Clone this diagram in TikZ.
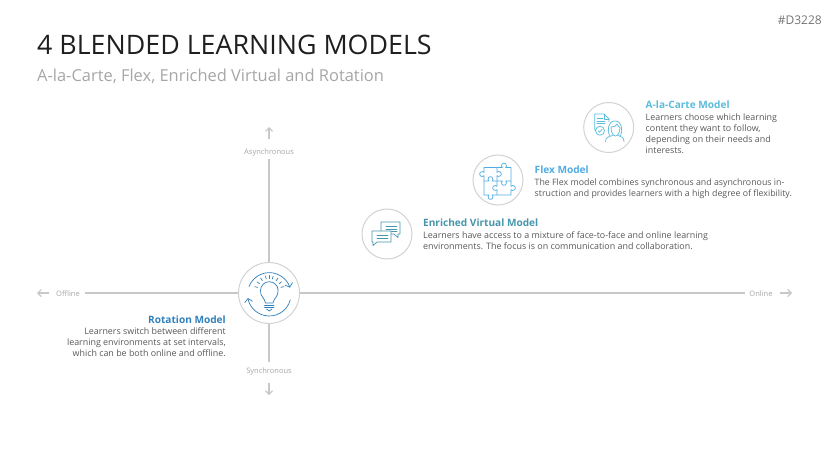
\documentclass[tikz,border=0pt]{standalone}
\usepackage{fontspec}
\setmainfont{Open Sans}
\usetikzlibrary{arrows.meta}
\definecolor{bodytxt}{HTML}{595959}
\definecolor{graytxt}{HTML}{A6A6A6}
\definecolor{axisgray}{HTML}{C8C8C8}
\definecolor{ringgray}{HTML}{D2D2D2}
\definecolor{cAla}{HTML}{5ABBDB}
\definecolor{cFlex}{HTML}{50ABE3}
\definecolor{cEnr}{HTML}{4596AB}
\definecolor{cRot}{HTML}{2F80BC}
\tikzset{
  ring/.style={circle,draw=ringgray,line width=1pt,fill=white,minimum size=50pt,inner sep=0pt},
  axis/.style={draw=axisgray,line width=1.2pt},
  axlabel/.style={text=graytxt,font=\fontsize{7.5}{9}\selectfont,inner sep=0pt},
  dirarrow/.style={draw=axisgray,line width=1.2pt,-{Straight Barb[length=3.5pt,width=7pt]}},
  heading/.style={font=\fontsize{10.1}{11}\selectfont\bfseries,inner sep=0pt},
  bodyleft/.style={text=bodytxt,font=\fontsize{8.9}{11}\selectfont,inner sep=0pt,align=left,anchor=north west},
  bodyright/.style={text=bodytxt,font=\fontsize{8.9}{11}\selectfont,inner sep=0pt,align=right,anchor=north east},
  icon/.style={line width=.7pt,line join=round,line cap=round},
  hubarrow/.style={-{Straight Barb[length=3.5pt,width=8pt]}},
}
\begin{document}
\begin{tikzpicture}[x=1pt,y=-1pt]
\useasboundingbox (0,0) rectangle (829,466);
% titles
\node[anchor=base west,inner sep=0pt,text=black!88,font=\fontsize{26.8}{30}\selectfont] (title) at (37,54) {4 BLENDED LEARNING MODELS};
\node[anchor=base west,inner sep=0pt,text=graytxt,font=\fontsize{16.45}{18}\selectfont] (subtitle) at (37,81) {A-la-Carte, Flex, Enriched Virtual and Rotation};
\node[anchor=base east,inner sep=0pt,text=black!55,font=\fontsize{12}{14}\selectfont] (code) at (822,24) {\#D3228};
% axis labels
\node[axlabel] (asyn) at (269,152.5) {Asynchronous};
\node[axlabel] (syn) at (269,371.5) {Synchronous};
\node[axlabel] (off) at (68,294) {Offline};
\node[axlabel] (on) at (761,294) {Online};
\coordinate (upA) at (269,127);
\coordinate (upB) at (269,139);
\coordinate (dnA) at (269,383);
\coordinate (dnB) at (269,395);
\coordinate (ltA) at (49,293);
\coordinate (ltB) at (37,293);
\coordinate (rtA) at (780,293);
\coordinate (rtB) at (792,293);
\draw[dirarrow] (upB) -- (upA);
\draw[dirarrow] (dnA) -- (dnB);
\draw[dirarrow] (ltA) -- (ltB);
\draw[dirarrow] (rtA) -- (rtB);
% hub
\node[ring,minimum size=61pt] (hub) at (269,293) {};
\coordinate (axT) at (269,159);
\coordinate (axB) at (269,362);
\coordinate (axL) at (85,293);
\coordinate (axR) at (745,293);
\draw[axis] (axT) -- (hub);
\draw[axis] (axB) -- (hub);
\draw[axis] (axL) -- (hub);
\draw[axis] (axR) -- (hub);
% rings
\node[ring] (alaring) at (608.7,127.5) {};
\node[ring] (flexring) at (498,180) {};
\node[ring] (enrring) at (387,234) {};
% hub icon
\begin{scope}[icon,draw=cRot]
\draw[hubarrow] (269.3,294.3) ++(201:21.7) arc[start angle=201,end angle=342,radius=21.7];
\draw[hubarrow] (269.3,294.3) ++(15:21.7) arc[start angle=15,end angle=170,radius=21.7];
\draw (265.5,303) .. controls (265,298.5) and (260,296.5) .. (260.5,290.5)
  arc[start angle=180,end angle=360,radius=8.8]
  .. controls (278.5,296.5) and (273.5,298.5) .. (273,303) -- cycle;
\draw (264.5,305) -- (274,305) (264.5,307) -- (274,307);
\draw (266.5,309) -- (269.3,311) -- (272,309);
\foreach \a in {195,215,235,255,270,285,305,325,345}
  \draw (269.3,290.5) ++(\a:12) -- ++(\a:3);
\end{scope}
% a-la-carte icon
\begin{scope}[icon,draw=cAla]
\draw (596,130) -- (594.7,130) -- (594.7,114) -- (604,114) -- (609,119) -- (609,122);
\draw (604,114) -- (604,119) -- (609,119);
\draw (597,118.5) -- (603,118.5) (597,121) -- (605,121) (597,123.5) -- (605,123.5);
\draw (600,130.7) circle[radius=4.5];
\draw (598,130.7) -- (599.6,132.2) -- (602.2,129.2);
\draw (609.5,136) .. controls (607,130) and (608,121) .. (615,121)
  .. controls (622,121) and (623,130) .. (620.5,136);
\draw (611,127) .. controls (614,127) and (616,126) .. (617,124)
  .. controls (618,126) and (619,127) .. (620,127.5)
  .. controls (620,132) and (618,136) .. (615.5,136)
  .. controls (613,136) and (611,132) .. (611,127);
\draw (605.5,141.5) .. controls (605.5,137.5) and (609,136.5) .. (612.5,135.5);
\draw (624,141.5) .. controls (624,137.5) and (621,136.5) .. (618.5,135.5);
\end{scope}
% flex icon
\begin{scope}[icon,draw=cFlex]
\draw (484,167.5) -- (502.4,167.5) arc[start angle=130,end angle=410,radius=2.5]
  -- (511,167.5) -- (511,186.4) arc[start angle=-140,end angle=140,radius=2.5]
  -- (511,195) -- (492.1,195) arc[start angle=-50,end angle=230,radius=2.5]
  -- (484,195) -- (484,175.6) arc[start angle=40,end angle=320,radius=2.5]
  -- cycle;
\draw (497,167.5) -- (497,172.4) arc[start angle=-140,end angle=140,radius=2.5] -- (497,186.4)
  arc[start angle=-40,end angle=-320,radius=2.5] -- (497,195);
\draw (484,181) -- (488.9,181) arc[start angle=130,end angle=410,radius=2.5] -- (502.4,181)
  arc[start angle=230,end angle=-50,radius=2.5] -- (511,181);
\end{scope}
% chat icon
\begin{scope}[icon,draw=cEnr]
\draw (381,222) -- (400,222) -- (400,234) -- (398,234) -- (398,237.5) -- (394,234) -- (381,234) -- cycle;
\draw (386,226.7) -- (397,226.7) (386,229.2) -- (397,229.2) (386,231.7) -- (397,231.7);
\draw[fill=white] (372,231) -- (391,231) -- (391,242) -- (377,242) -- (373,245.5) -- (373,242) -- (372,242) -- cycle;
\draw (377,235.7) -- (388,235.7) (377,238.5) -- (388,238.5);
\end{scope}
% texts
\node[heading,anchor=base west,text=cAla] (alahead) at (645.5,108) {A-la-Carte Model};
\node[bodyleft] (alabody) at (645.5,113.5) {Learners choose which learning\\content they want to follow,\\depending on their needs and\\interests.};
\node[heading,anchor=base west,text=cFlex] (flexhead) at (534.5,173) {Flex Model};
\node[bodyleft,font=\fontsize{8.8}{11}\selectfont] (flexbody) at (534.5,178.5) {The Flex model combines synchronous and asynchronous in-\\struction and provides learners with a high degree of flexibility.};
\node[heading,anchor=base west,text=cEnr] (enrhead) at (423,226) {Enriched Virtual Model};
\node[bodyleft] (enrbody) at (423,231) {Learners have access to a mixture of face-to-face and online learning\\environments. The focus is on communication and collaboration.};
\node[heading,anchor=base east,text=cRot] (rothead) at (226,323) {Rotation Model};
\node[bodyright] (rotbody) at (226,327.7) {Learners switch between different\\learning environments at set intervals,\\which can be both online and offline.};
\end{tikzpicture}
\end{document}
